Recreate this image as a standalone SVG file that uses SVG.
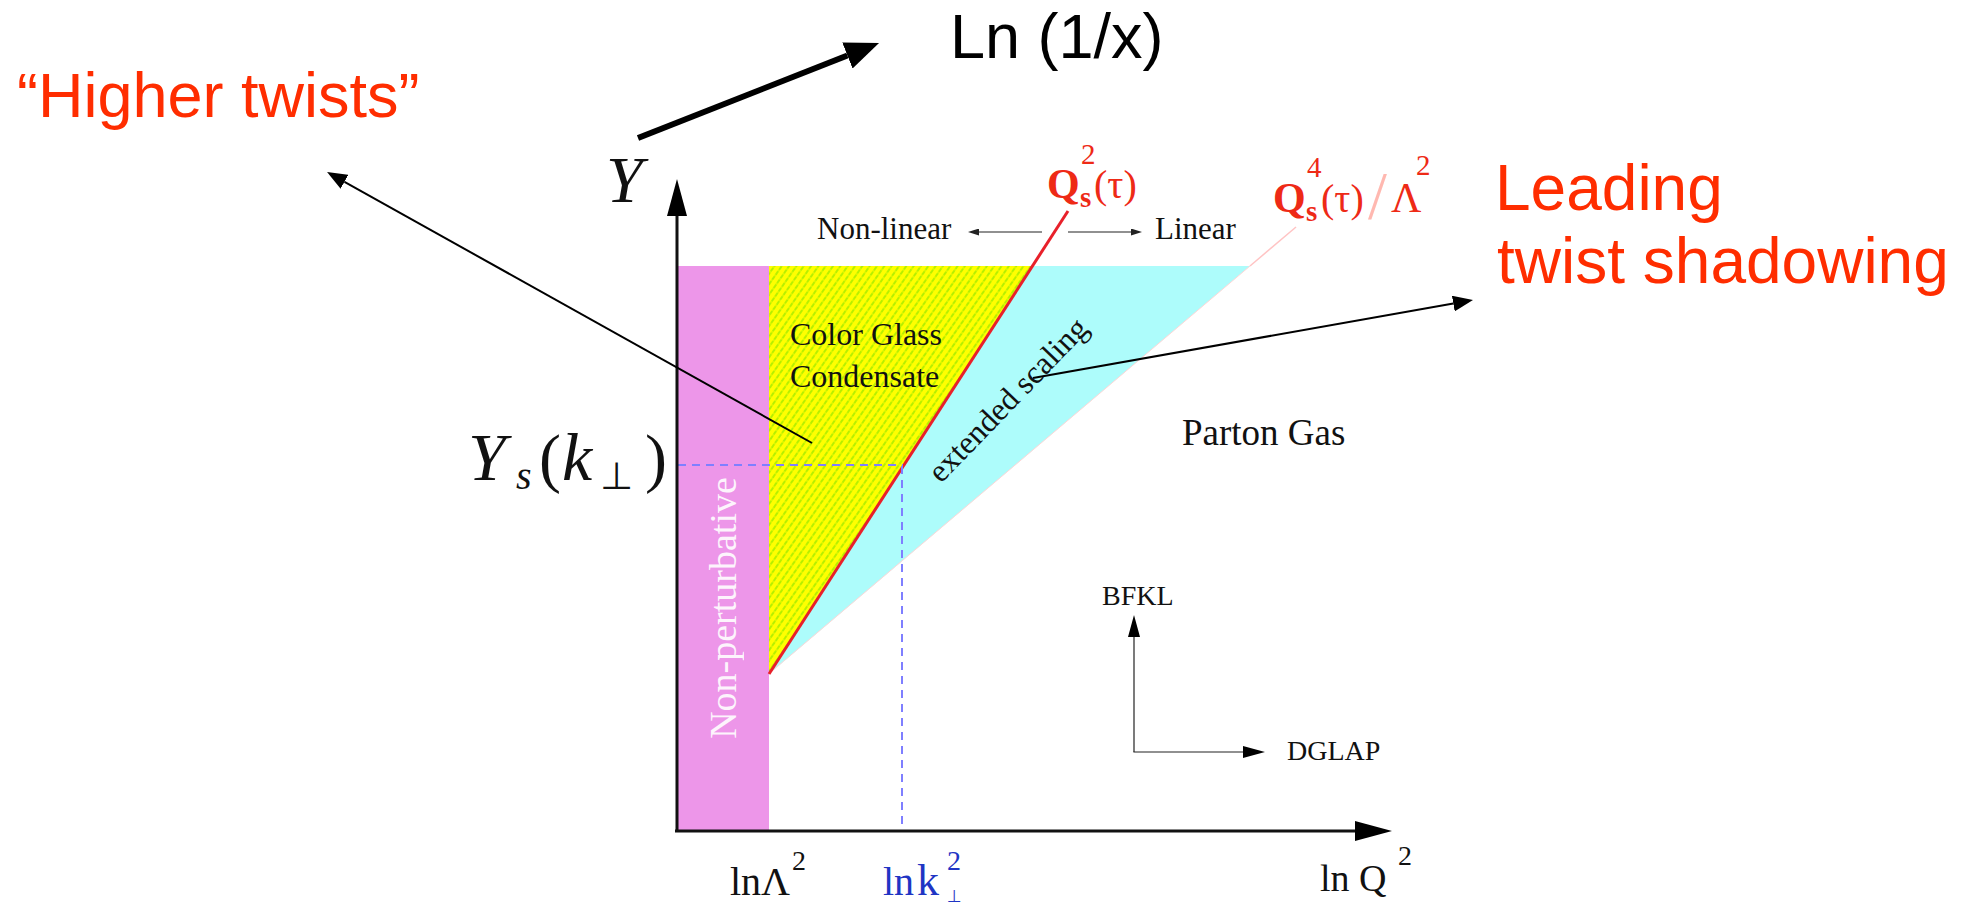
<svg xmlns="http://www.w3.org/2000/svg" width="1971" height="904" viewBox="0 0 1971 904">
<style>
.serif{font-family:"Liberation Serif","Times New Roman",serif;fill:#111}
.sans{font-family:"Liberation Sans",Arial,sans-serif}
.red{fill:#ff2d00}
.qs{font-family:"Liberation Serif","Times New Roman",serif;fill:#ee2a16}
.blue{font-family:"Liberation Serif","Times New Roman",serif;fill:#1f35c4}
.it{font-style:italic}
.dash{stroke:#7f7fff;stroke-width:2;stroke-dasharray:8 6;fill:none}
.axis{stroke:#111;stroke-width:3;fill:none}
.thin{stroke:#000;stroke-width:2;fill:none}
.hair{stroke:#222;stroke-width:1.2;fill:none}
</style>
<defs>
<pattern id="hatch" patternUnits="userSpaceOnUse" width="6" height="6" patternTransform="rotate(35)">
<rect width="6" height="6" fill="#ffff00"/>
<line x1="1" y1="0" x2="1" y2="6" stroke="#6ee000" stroke-width="1" stroke-dasharray="2.5 1"/>
</pattern>
<marker id="mAxis" viewBox="0 -10 37 20" markerWidth="37" markerHeight="20" refX="0" refY="0" orient="auto" markerUnits="userSpaceOnUse"><path d="M0,-10 L37,0 L0,10 z" fill="#000"/></marker>
<marker id="mBig" viewBox="0 -14 34 28" markerWidth="34" markerHeight="28" refX="0" refY="0" orient="auto" markerUnits="userSpaceOnUse"><path d="M0,-14 L34,0 L0,14 z" fill="#000"/></marker>
<marker id="mPtr" viewBox="0 -8 20 16" markerWidth="20" markerHeight="16" refX="0" refY="0" orient="auto" markerUnits="userSpaceOnUse"><path d="M0,-8 L20,0 L0,8 z" fill="#000"/></marker>
<marker id="mMid" viewBox="0 -6 22 12" markerWidth="22" markerHeight="12" refX="0" refY="0" orient="auto" markerUnits="userSpaceOnUse"><path d="M0,-6 L22,0 L0,6 z" fill="#000"/></marker>
<marker id="mSmall" viewBox="0 -3.5 11 7" markerWidth="11" markerHeight="7" refX="0" refY="0" orient="auto" markerUnits="userSpaceOnUse"><path d="M0,-3.5 L11,0 L0,3.5 z" fill="#222"/></marker>
</defs>
<rect width="1971" height="904" fill="#fff"/>

<g id="non-perturbative">
<rect x="677" y="266" width="92" height="564" fill="#ed96e9"/>
<text class="serif" transform="translate(736,608) rotate(-90)" text-anchor="middle" font-size="38" style="fill:#fff" opacity="0.9">Non-perturbative</text>
</g>

<g id="cgc">
<polygon points="769,266 1032,266 769,674" fill="url(#hatch)"/>
<text class="serif" x="790" y="345" font-size="32">Color Glass</text>
<text class="serif" x="790" y="387" font-size="32">Condensate</text>
</g>

<g id="extended-scaling">
<polygon points="769,674 1032,266 1250,266" fill="#adfcfb"/>
<line x1="1250" y1="266" x2="772" y2="671" stroke="#ffd6d6" stroke-width="1"/>
<text class="serif" transform="translate(941,484) rotate(-46)" font-size="32">extended scaling</text>
</g>

<g id="saturation-line">
<line x1="769" y1="674" x2="1068" y2="211" stroke="#e8202a" stroke-width="3"/>
<text class="qs"><tspan x="1047" y="198" font-size="42" font-weight="bold">Q</tspan><tspan x="1080" y="207" font-size="29" font-weight="bold">s</tspan><tspan x="1081" y="164" font-size="29">2</tspan><tspan x="1094" y="198" font-size="40">(τ)</tspan></text>
</g>

<g id="extended-line">
<line x1="1250" y1="266" x2="1296" y2="227" stroke="#ffc4c4" stroke-width="1.5"/>
<text class="qs"><tspan x="1273" y="212" font-size="42" font-weight="bold">Q</tspan><tspan x="1306" y="221" font-size="29" font-weight="bold">s</tspan><tspan x="1307" y="177" font-size="29">4</tspan><tspan x="1321" y="212" font-size="40">(τ)</tspan><tspan x="1368" y="218" font-size="68" style="fill:#ffb8b0">/</tspan><tspan x="1391" y="212" font-size="42">Λ</tspan><tspan x="1416" y="175" font-size="29">2</tspan></text>
</g>

<g id="parton-gas">
<text class="serif" x="1182" y="445" font-size="37">Parton Gas</text>
</g>

<g id="regime-labels">
<text class="serif" x="817" y="239" font-size="31">Non-linear</text>
<text class="serif" x="1155" y="239" font-size="31">Linear</text>
</g>

<g id="evolution-labels">
<text class="serif" x="1102" y="605" font-size="28">BFKL</text>
<text class="serif" x="1287" y="760" font-size="28">DGLAP</text>
</g>

<g id="axis-labels">
<text class="serif it" x="606" y="202" font-size="66">Y</text>
<text class="serif"><tspan x="468" y="480" font-size="68" font-style="italic">Y</tspan><tspan x="516" y="489" font-size="40" font-style="italic">s</tspan><tspan x="539" y="480" font-size="66">(</tspan><tspan x="562" y="480" font-size="68" font-style="italic">k</tspan><tspan x="600" y="489" font-size="38" style="font-family:'DejaVu Sans',sans-serif">⊥</tspan><tspan x="645" y="480" font-size="66">)</tspan></text>
<text class="serif"><tspan x="730" y="895" font-size="40">lnΛ</tspan><tspan x="792" y="870" font-size="28">2</tspan></text>
<text class="blue"><tspan x="883" y="895" font-size="40">ln</tspan><tspan x="917" y="895" font-size="44">k</tspan><tspan x="947" y="870" font-size="28">2</tspan><tspan x="947" y="902" font-size="17" style="font-family:'DejaVu Sans',sans-serif">⊥</tspan></text>
<text class="serif"><tspan x="1320" y="891" font-size="38">ln Q</tspan><tspan x="1398" y="865" font-size="28">2</tspan></text>
</g>

<g id="annotations">
<text class="sans red" x="17" y="117" font-size="63">“Higher twists”</text>
<text class="sans red" x="1495" y="210" font-size="64">Leading</text>
<text class="sans red" x="1497" y="283" font-size="64">twist shadowing</text>
<text class="sans" x="950" y="58" font-size="63" fill="#000">Ln (1/x)</text>
</g>

<g id="connectors">
<line class="dash" x1="678" y1="465" x2="903" y2="465"/>
<line class="dash" x1="902" y1="466" x2="902" y2="830"/>
<line class="axis" x1="677" y1="832" x2="677" y2="216" marker-end="url(#mAxis)"/>
<line class="axis" x1="675" y1="831" x2="1355" y2="831" marker-end="url(#mAxis)"/>
<line x1="638" y1="138" x2="847.4" y2="55.5" stroke="#000" stroke-width="6" marker-end="url(#mBig)"/>
<line class="thin" x1="812" y1="443" x2="344.5" y2="181.8" marker-end="url(#mPtr)"/>
<line class="thin" x1="1033" y1="378" x2="1453.3" y2="303.5" marker-end="url(#mPtr)"/>
<line class="hair" x1="1042" y1="232" x2="979" y2="232" marker-end="url(#mSmall)"/>
<line class="hair" x1="1068" y1="232" x2="1131" y2="232" marker-end="url(#mSmall)"/>
<line class="hair" x1="1134" y1="752" x2="1134" y2="637" marker-end="url(#mMid)"/>
<line class="hair" x1="1133.4" y1="752" x2="1243" y2="752" marker-end="url(#mMid)"/>
</g>
</svg>
